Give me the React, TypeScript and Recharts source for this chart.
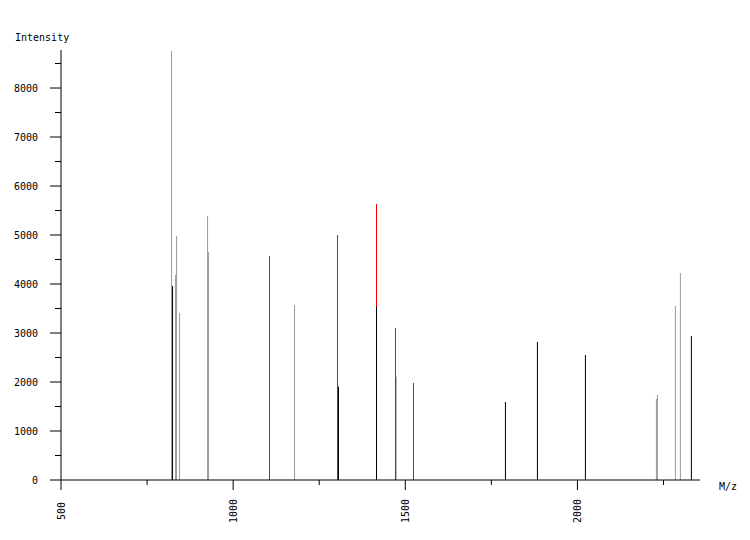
import { ComposedChart, Line, XAxis, YAxis } from "recharts";

// peak positions (m/z) and intensities, grouped by colour
const mzGray = [821.1, 832.8, 835.7, 844.4, 925.7, 928.6, 1178.3, 1473.6, 2229.4, 2232.3, 2284.5, 2299.0];
const intGray = [8755, 4184, 4980, 3408, 5388, 4653, 3571, 2109, 1653, 1735, 3551, 4224];

const mzRed = [1105.7, 1303.1, 1416.4, 1471.5, 1523.8];
const intRed = [4571, 5000, 5633, 3102, 1980];

const mzBlack = [824.0, 1306.0, 1416.4, 1790.9, 1883.8, 2023.2, 2331.0];
const intBlack = [3959, 1905, 3537, 1592, 2816, 2551, 2939];

const xTicks = [500, 750, 1000, 1250, 1500, 1750, 2000, 2250];
const yTicks = [0, 500, 1000, 1500, 2000, 2500, 3000, 3500, 4000, 4500, 5000, 5500, 6000, 6500, 7000, 7500, 8000, 8500];

const FONT = "'DejaVu Sans Mono', monospace";

const groups = [
  { name: "gray", color: "#999999", mz: mzGray, vals: intGray },
  { name: "red", color: "#ff0000", mz: mzRed, vals: intRed },
  { name: "black", color: "#000000", mz: mzBlack, vals: intBlack },
];

function XTick({ x, y, payload }: any) {
  const major = payload.value % 500 === 0;
  return (
    <g>
      <line x1={x} y1={y} x2={x} y2={y + (major ? 10 : 5)} stroke="#000" />
      {major && (
        <text
          transform={`translate(${x},${y + 31}) rotate(-90)`}
          textAnchor="middle"
          dy={3.5}
          fontFamily={FONT}
          fontSize={10}
          fill="#000"
        >
          {payload.value}
        </text>
      )}
    </g>
  );
}

function YTick({ x, y, payload }: any) {
  const major = payload.value % 1000 === 0;
  return (
    <g>
      <line x1={x - (major ? 11 : 6)} y1={y} x2={x} y2={y} stroke="#000" />
      {major && (
        <text x={x - 23} y={y + 3.5} textAnchor="end" fontFamily={FONT} fontSize={10} fill="#000">
          {payload.value}
        </text>
      )}
    </g>
  );
}

export default function App() {
  return (
    <div style={{ position: "absolute", left: 0, top: 0, background: "#fff" }}>
      <ComposedChart width={750} height={540} margin={{ top: 50, right: 50, left: 11, bottom: 0 }}>
        <XAxis
          type="number"
          dataKey="mz"
          domain={[500, 2356]}
          ticks={xTicks}
          interval={0}
          tickSize={0}
          tickMargin={0}
          tick={<XTick />}
          height={60}
          axisLine={{ stroke: "#000" }}
          allowDataOverflow
          label={{
            content: ({ viewBox }: any) => (
              <text x={viewBox.x + viewBox.width + 19} y={viewBox.y + 10} fontFamily={FONT} fontSize={10} fill="#000">
                M/z
              </text>
            ),
          }}
        />
        <YAxis
          type="number"
          domain={[0, 8776]}
          ticks={yTicks}
          interval={0}
          tickSize={0}
          tickMargin={0}
          tick={<YTick />}
          width={50}
          axisLine={{ stroke: "#000" }}
          allowDataOverflow
          label={{
            content: () => (
              <text x={15} y={41} fontFamily={FONT} fontSize={10} fill="#000">
                Intensity
              </text>
            ),
          }}
        />
        {groups.map((g) =>
          g.mz.map((m, i) => (
            <Line
              key={`${g.name}-${i}`}
              data={[
                { mz: m, v: 0 },
                { mz: m, v: g.vals[i] },
              ]}
              dataKey="v"
              type="linear"
              stroke={g.color}
              strokeWidth={1}
              dot={false}
              activeDot={false}
              isAnimationActive={false}
            />
          ))
        )}
      </ComposedChart>
    </div>
  );
}
